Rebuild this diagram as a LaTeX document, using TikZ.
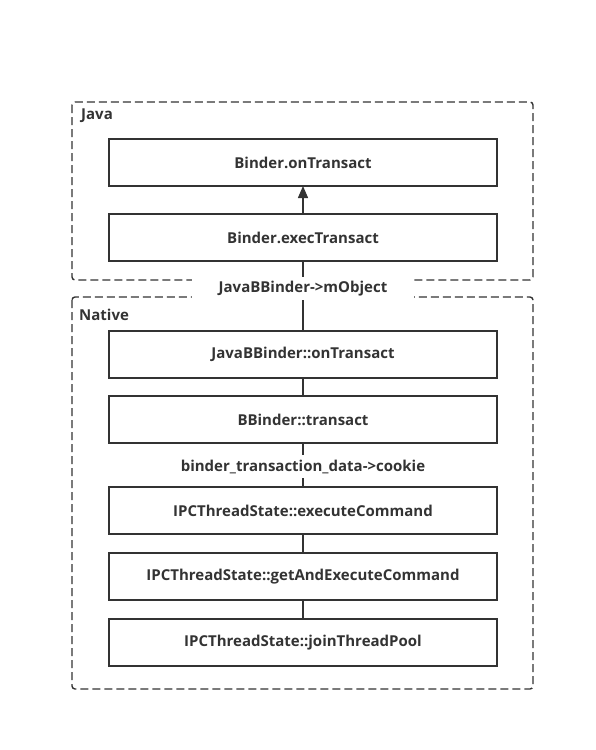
\documentclass[tikz,border=0pt]{standalone}
\usepackage{fontspec}
\setmainfont{Open Sans}
\usetikzlibrary{positioning, arrows.meta, calc}
\definecolor{ink}{HTML}{333333}

\begin{document}
\begin{tikzpicture}[x=1pt, y=1pt,
                  node distance=18pt,
                  every node/.style={font=\bfseries\fontsize{15}{17}\selectfont, text=ink},
                  func/.style={rectangle, draw=ink, line width=1.4pt, outer sep=0pt, minimum width=388pt, minimum height=47pt, inner sep=0pt},
                  group/.style={draw=ink, line width=1.4pt, dash pattern=on 8pt off 4pt, rounded corners=3pt},
                  tag/.style={fill=white, inner xsep=27pt, inner ysep=4pt, minimum height=18pt},
                  link/.style={draw=ink, line width=1.4pt},
                  arrow/.style={link, -{Triangle[length=12pt, width=10pt]}}
            ]
            \useasboundingbox (0,0) rectangle (596,-750);

            % Call chain
            \node (onTransact) [func] at (303,-162.5) {Binder.onTransact};
            \node (execTransact) [func, below=28pt of onTransact] {Binder.execTransact};
            \node (jbbOnTransact) [func, below=70pt of execTransact] {JavaBBinder::onTransact};
            \node (bbTransact) [func, below=of jbbOnTransact] {BBinder::transact};
            \node (execCmd) [func, below=44pt of bbTransact] {IPCThreadState::executeCommand};
            \node (getAndExec) [func, below=19pt of execCmd] {IPCThreadState::getAndExecuteCommand};
            \node (joinPool) [func, below=19pt of getAndExec] {IPCThreadState::joinThreadPool};

            % Layers
            \draw [group] ($(onTransact.north west)+(-37,37)$) rectangle ($(execTransact.south east)+(36,-19)$);
            \draw [group] ($(jbbOnTransact.north west)+(-37,34)$) rectangle ($(joinPool.south east)+(36,-23)$);
            \node (java) [anchor=west, inner sep=0pt] at (81,-116) {Java};
            \node (native) [anchor=west, inner sep=0pt] at (79,-315) {Native};

            % Links
            \draw [arrow] (execTransact) -- (onTransact);
            \draw [link] (execTransact) -- node[tag, pos=0.39] (mObject) {JavaBBinder->mObject} (jbbOnTransact);
            \draw [link] (jbbOnTransact) -- (bbTransact);
            \draw [link] (bbTransact) -- node[tag, pos=0.54, inner xsep=3pt, minimum height=23pt] (cookie) {binder\_transaction\_data->cookie} (execCmd);
            \draw [link] (execCmd) -- (getAndExec);
            \draw [link] (getAndExec) -- (joinPool);

      \end{tikzpicture}
\end{document}
